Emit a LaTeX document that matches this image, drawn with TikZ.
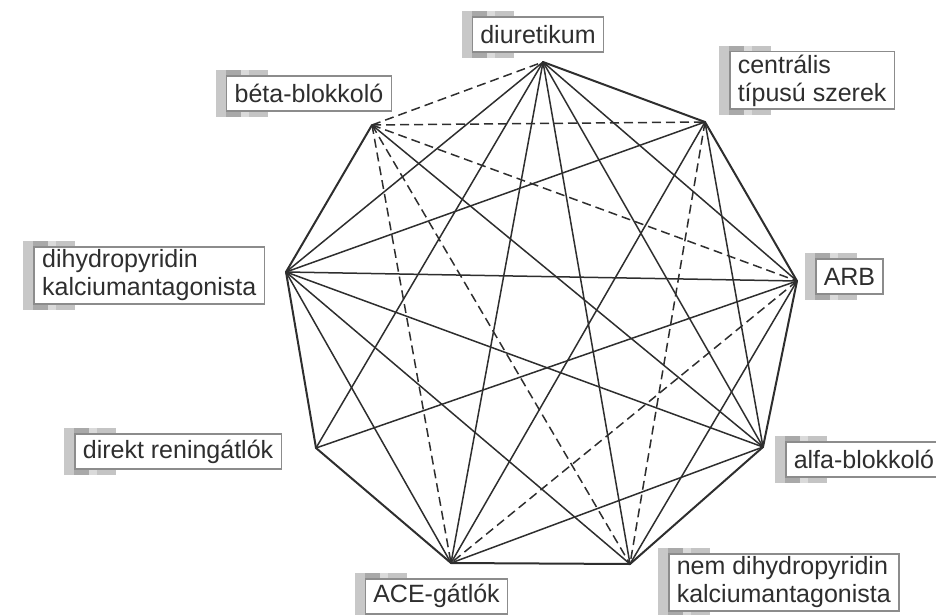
\documentclass[tikz,border=0pt]{standalone}
\usepackage{fontspec}
\setmainfont{Liberation Sans}
\usepackage{xcolor}
\usepackage{tikz}
\usetikzlibrary{positioning, calc, backgrounds}
\definecolor{ink}{HTML}{2E2E2E}
\definecolor{frame}{HTML}{8C8C8C}
\definecolor{tabA}{HTML}{C8C8C8}
\definecolor{tabB}{HTML}{A9A9A9}
\definecolor{tabC}{HTML}{DADADA}
\definecolor{tabD}{HTML}{C4C4C4}
\tikzset{
    drug/.style={draw=frame, line width=1.5pt, fill=white, text=ink, align=left,
        font=\fontsize{25}{28}\selectfont, inner xsep=8pt, inner ysep=3pt, minimum height=35pt},
    link/.style={draw=ink, line width=1.5pt, line cap=round},
    rim/.style={link, line width=2pt},
    dashed-link/.style={link, line cap=butt, dash pattern=on 9pt off 5pt}
}

\begin{document}
\begin{tikzpicture}[x=1pt, y=-1pt]
    \useasboundingbox (0,0) rectangle (936,615);

    % corners of the nonagon
    \coordinate (Diu) at (543,62);
    \coordinate (Cen) at (705,122);
    \coordinate (Arb) at (797,281);
    \coordinate (Alf) at (763,447);
    \coordinate (Nem) at (630,564);
    \coordinate (Ace) at (451,563);
    \coordinate (Dir) at (316,448);
    \coordinate (Dhp) at (286,272);
    \coordinate (Bet) at (372,125);

    \foreach \a/\b in {Diu/Cen, Cen/Arb, Arb/Alf, Alf/Nem, Nem/Ace, Ace/Dir, Dir/Dhp, Dhp/Bet}
        \draw [rim] (\a) -- (\b);
    \foreach \a/\b in {Diu/Arb, Diu/Alf, Diu/Nem, Diu/Ace, Diu/Dir, Diu/Dhp, Cen/Alf, Cen/Ace, Cen/Dhp,
                       Arb/Nem, Arb/Dir, Arb/Dhp, Alf/Ace, Alf/Dhp, Alf/Bet, Nem/Dhp, Ace/Dhp}
        \draw [link] (\a) -- (\b);
    \foreach \a/\b in {Bet/Diu, Bet/Cen, Bet/Arb, Bet/Ace, Bet/Nem, Cen/Nem, Arb/Ace}
        \draw [dashed-link] (\a) -- (\b);

    % labels
    \node [drug, above=9pt of Diu, xshift=-5pt] (DiuBox) {diuretikum};
    \node [drug, above right=12pt and 24pt of Cen] (CenBox) {centrális\\típusú szerek};
    \node [drug, right=18pt of Arb, yshift=4.5pt] (ArbBox) {ARB};
    \node [drug, right=22pt of Alf, yshift=-12.5pt] (AlfBox) {alfa-blokkoló};
    \node [drug, right=38pt of Nem, yshift=-18.5pt] (NemBox) {nem dihydropyridin\\kalciumantagonista};
    \node [drug, below=15pt of Ace, xshift=-14.5pt] (AceBox) {ACE-gátlók};
    \node [drug, left=34pt of Dir, yshift=-3.5pt] (DirBox) {direkt reningátlók};
    \node [drug, left=21pt of Dhp, yshift=-3.5pt] (DhpBox) {dihydropyridin\\kalciumantagonista};
    \node [drug, above=13pt of Bet, xshift=-63pt] (BetBox) {béta-blokkoló};

    % grey tabs behind the boxes
    \begin{scope}[on background layer]
        \foreach \n in {DiuBox, CenBox, ArbBox, AlfBox, NemBox, AceBox, DirBox, DhpBox, BetBox} {
            \fill [tabA] ($(\n.north west)+(-10,-5)$) rectangle ($(\n.south west)+(0,5)$);
            \fill [tabB] ($(\n.north west)+(0,-5)$) rectangle ($(\n.south west)+(15,5)$);
            \fill [tabC] ($(\n.north west)+(15,-5)$) rectangle ($(\n.south west)+(23,5)$);
            \fill [tabD] ($(\n.north west)+(23,-5)$) rectangle ($(\n.south west)+(42,5)$);
        }
    \end{scope}
\end{tikzpicture}
\end{document}
